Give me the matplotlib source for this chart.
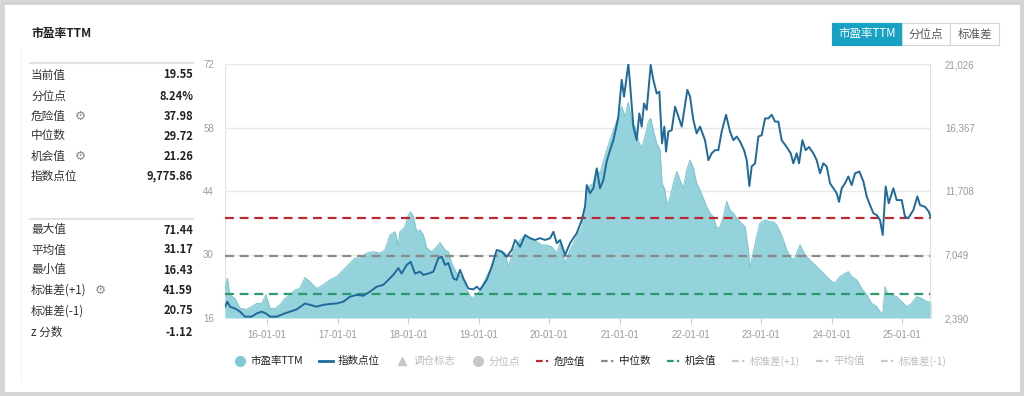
import matplotlib
matplotlib.use("Agg")
import matplotlib.pyplot as plt
from matplotlib.lines import Line2D
from matplotlib.patches import Rectangle
from matplotlib.ticker import FixedLocator, FuncFormatter

plt.rcParams['font.family'] = ['Noto Sans CJK SC', 'DejaVu Sans']

# ---------------- data ----------------
pe_t = [2015.405, 2015.438, 2015.475, 2015.546, 2015.617, 2015.711, 2015.782, 2015.853, 2015.924, 2015.986,
        2016.042, 2016.113, 2016.184, 2016.255, 2016.326, 2016.397, 2016.467, 2016.538, 2016.608, 2016.703,
        2016.797, 2016.892, 2016.986, 2017.081, 2017.175, 2017.246, 2017.317, 2017.411, 2017.505, 2017.6,
        2017.671, 2017.742, 2017.813, 2017.86, 2017.884, 2017.955, 2018.002, 2018.035, 2018.073, 2018.12,
        2018.167, 2018.215, 2018.262, 2018.333, 2018.404, 2018.451, 2018.522, 2018.569, 2018.616, 2018.687,
        2018.758, 2018.829, 2018.9, 2018.971, 2019.018, 2019.089, 2019.16, 2019.231, 2019.301, 2019.372,
        2019.419, 2019.49, 2019.561, 2019.632, 2019.726, 2019.821, 2019.891, 2019.962, 2020.033, 2020.104,
        2020.151, 2020.222, 2020.293, 2020.387, 2020.458, 2020.505, 2020.552, 2020.623, 2020.67,
        2020.717, 2020.811, 2020.906, 2020.977, 2021.024, 2021.071, 2021.118, 2021.166, 2021.213, 2021.26,
        2021.307, 2021.354, 2021.402, 2021.435, 2021.472, 2021.52, 2021.567, 2021.595, 2021.638, 2021.661,
        2021.708, 2021.756, 2021.803, 2021.85, 2021.897, 2021.945, 2021.992, 2022.039, 2022.086, 2022.133,
        2022.18, 2022.228, 2022.275, 2022.322, 2022.369, 2022.417, 2022.464, 2022.511, 2022.558, 2022.606,
        2022.653, 2022.7, 2022.771, 2022.818, 2022.842, 2022.879, 2022.936, 2022.983, 2023.054, 2023.125,
        2023.172, 2023.219, 2023.266, 2023.314, 2023.361, 2023.408, 2023.455, 2023.503, 2023.55, 2023.597,
        2023.644, 2023.715, 2023.786, 2023.857, 2023.928, 2023.998, 2024.045, 2024.116, 2024.187, 2024.234,
        2024.282, 2024.352, 2024.423, 2024.494, 2024.565, 2024.636, 2024.683, 2024.721, 2024.754, 2024.787,
        2024.848, 2024.919, 2024.99, 2025.061, 2025.131, 2025.202, 2025.273, 2025.344, 2025.405]
pe_v = [22.2, 24.75, 21.1, 20.3, 18.13, 17.9, 18.5, 19.2, 19.2, 21.1,
        18.1, 18.1, 18.9, 20.3, 21.1, 22.2, 22.5, 24.9, 24.0, 22.5,
        23.3, 24.4, 25.1, 26.6, 28.1, 29.2, 29.2, 30.3, 30.6, 30.3,
        31.0, 34.3, 35.0, 32.1, 35.0, 36.1, 38.7, 39.4, 38.3, 35.0,
        35.4, 34.3, 31.4, 30.6, 31.7, 32.6, 31.0, 30.6, 28.1, 25.8,
        25.1, 22.2, 20.3, 21.1, 22.2, 24.4, 26.6, 29.5, 31.0, 30.3,
        27.3, 31.0, 32.8, 33.9, 33.6, 32.8, 32.1, 32.1, 31.7, 30.3,
        32.5, 28.1, 31.0, 33.9, 36.1, 40.5, 44.9, 45.7, 48.6,
        47.9, 53.0, 57.4, 60.4, 62.6, 60.4, 63.5, 59.3, 58.2, 55.0,
        53.5, 56.0, 59.3, 60.0, 57.4, 54.5, 53.0, 45.7, 44.2, 40.9,
        42.4, 45.7, 48.3, 46.4, 44.6, 48.6, 50.8, 49.0, 45.7, 44.2,
        42.4, 40.5, 39.1, 38.3, 35.8, 36.1, 38.3, 41.7, 39.8, 39.1,
        38.0, 37.2, 36.1, 31.0, 27.0, 29.9, 33.9, 36.9, 37.6, 37.2,
        37.2, 36.5, 35.0, 33.2, 31.0, 29.5, 28.8, 30.3, 32.1, 30.6,
        29.5, 28.4, 27.3, 26.2, 25.1, 24.0, 23.7, 25.1, 25.8, 26.2,
        25.1, 24.4, 22.5, 21.1, 19.2, 18.5, 17.4, 16.7, 22.9, 21.4,
        21.1, 20.7, 19.6, 18.5, 19.2, 20.7, 20.3, 19.6, 19.55]

idx_t = [2015.405, 2015.438, 2015.475, 2015.546, 2015.617, 2015.688, 2015.782, 2015.853, 2015.924, 2015.986,
         2016.042, 2016.137, 2016.231, 2016.326, 2016.42, 2016.538, 2016.608, 2016.703, 2016.797, 2016.892,
         2016.986, 2017.081, 2017.175, 2017.27, 2017.364, 2017.458, 2017.553, 2017.647, 2017.718, 2017.789,
         2017.86, 2017.907, 2017.978, 2018.035, 2018.096, 2018.167, 2018.215, 2018.285, 2018.356, 2018.427,
         2018.474, 2018.522, 2018.569, 2018.64, 2018.687, 2018.734, 2018.782, 2018.852, 2018.923, 2018.971,
         2019.018, 2019.112, 2019.183, 2019.254, 2019.325, 2019.396, 2019.467, 2019.514, 2019.585, 2019.655,
         2019.726, 2019.797, 2019.868, 2019.939, 2020.01, 2020.057, 2020.104, 2020.151, 2020.222, 2020.293,
         2020.387, 2020.458, 2020.505, 2020.529, 2020.576, 2020.623, 2020.67,
         2020.717, 2020.764, 2020.811, 2020.859, 2020.906, 2020.953, 2020.977, 2021.024, 2021.057, 2021.118,
         2021.142, 2021.189, 2021.236, 2021.274, 2021.307, 2021.34, 2021.378, 2021.435, 2021.472, 2021.52,
         2021.557, 2021.595, 2021.628, 2021.652, 2021.685, 2021.732, 2021.78, 2021.827, 2021.874, 2021.921,
         2021.954, 2021.992, 2022.039, 2022.086, 2022.133, 2022.204, 2022.252, 2022.299, 2022.346, 2022.393,
         2022.44, 2022.502, 2022.558, 2022.606, 2022.653, 2022.7, 2022.757, 2022.795, 2022.832, 2022.865,
         2022.913, 2022.96, 2023.007, 2023.054, 2023.101, 2023.149, 2023.196, 2023.243, 2023.29, 2023.361,
         2023.418, 2023.455, 2023.503, 2023.536, 2023.583, 2023.63, 2023.677, 2023.739, 2023.786, 2023.833,
         2023.88, 2023.928, 2023.975, 2024.022, 2024.069, 2024.102, 2024.14, 2024.187, 2024.234, 2024.282,
         2024.329, 2024.39, 2024.447, 2024.494, 2024.541, 2024.589, 2024.636, 2024.683, 2024.721, 2024.763,
         2024.806, 2024.872, 2024.919, 2024.99, 2025.037, 2025.084, 2025.155, 2025.212, 2025.249, 2025.32,
         2025.367, 2025.405]
idx_v = [3222, 3588, 3222, 3089, 2856, 2490, 2490, 2723, 2856, 2723,
         2490, 2490, 2690, 2856, 3022, 3455, 3355, 3222, 3355, 3422,
         3455, 3588, 3954, 4087, 4021, 4320, 4686, 4819, 5186, 5552,
         6051, 5651, 6284, 6517, 5651, 5785, 5552, 5651, 5785, 6783,
         6883, 6284, 6417, 5285, 5186, 5918, 5285, 4553, 4487, 4686,
         4453, 5186, 6151, 7382, 7249, 6883, 7382, 8114, 7615, 8480,
         8247, 8114, 8247, 8114, 8247, 8713, 7881, 8114, 7016, 7881,
         8613, 9578, 10577, 12141, 11542, 11908, 13372,
         11908, 12507, 13872, 14704, 15436, 16534, 17166, 19862, 18631, 21026,
         19596, 16434, 15436, 17399, 16434, 18131, 17666, 20960, 19862, 18864,
         18997, 15203, 16434, 14604, 16068, 16168, 17898, 17166, 16434, 18032,
         19130, 18631, 16900, 15935, 16434, 15436, 13971, 14471, 14704, 14704,
         16068, 17299, 16068, 15436, 15702, 15336, 14704, 13971, 12074, 13506,
         13738, 15702, 15802, 17033, 17033, 17299, 16800, 16800, 15436, 14937,
         14471, 13738, 14471, 13738, 15436, 14704, 14937, 14471, 13971, 13006,
         13738, 13506, 12274, 11908, 11542, 10910, 11908, 12274, 12773, 12141,
         13006, 13139, 12407, 11309, 10677, 10078, 9945, 9578, 8480, 12041,
         10810, 11908, 11043, 11043, 9811, 9712, 10311, 11309, 10677, 10544,
         10244, 9776]

danger_val = 37.98
median_val = 29.72
chance_val = 21.26

x_ticks = [2016, 2017, 2018, 2019, 2020, 2021, 2022, 2023, 2024, 2025]
x_labels = ["16-01-01", "17-01-01", "18-01-01", "19-01-01", "20-01-01",
            "21-01-01", "22-01-01", "23-01-01", "24-01-01", "25-01-01"]
left_ticks = [16, 30, 44, 58, 72]
right_ticks = [2390, 7049, 11708, 16367, 21026]

stats1 = [("当前值", "19.55", False), ("分位点", "8.24%", False), ("危险值", "37.98", True),
          ("中位数", "29.72", False), ("机会值", "21.26", True), ("指数点位", "9,775.86", False)]
stats2 = [("最大值", "71.44", False), ("平均值", "31.17", False), ("最小值", "16.43", False),
          ("标准差(+1)", "41.59", True), ("标准差(-1)", "20.75", False), ("z 分数", "-1.12", False)]

# ---------------- figure ----------------
W, H = 1024, 396
fig = plt.figure(figsize=(W / 100, H / 100), dpi=100)
fig.patch.set_facecolor('white')

def fx(px):
    return px / W

def fy(py):
    return 1 - py / H

# outer frame
fig.patches.append(Rectangle((0.002, 0.004), 0.996, 0.992, transform=fig.transFigure,
                             fill=False, edgecolor='#d4d4d4', linewidth=3.5))

ax = fig.add_axes([fx(225), fy(318), fx(931) - fx(225), fy(64) - fy(318)])
ax2 = ax.twinx()

AREA = '#95d3dc'
LINE = '#1f6a9b'

ax.fill_between(pe_t, pe_v, 16, color=AREA, linewidth=0, zorder=2)
ax.plot(pe_t, pe_v, color='#80c7d2', linewidth=0.8, zorder=3)

ax.axhline(danger_val, color='#c0262d', linewidth=1.6, dashes=(4, 2.6), zorder=4)
ax.axhline(median_val, color='#8a8a8a', linewidth=1.6, dashes=(4, 2.6), zorder=4)
ax.axhline(chance_val, color='#2a9a6c', linewidth=1.6, dashes=(4, 2.6), zorder=4)

ax2.plot(idx_t, idx_v, color=LINE, linewidth=1.4, zorder=5)

ax.set_xlim(2015.405, 2025.405)
ax.set_ylim(16, 72)
ax2.set_ylim(2390, 21026)

ax.yaxis.set_major_locator(FixedLocator(left_ticks))
ax2.yaxis.set_major_locator(FixedLocator(right_ticks))
ax2.yaxis.set_major_formatter(FuncFormatter(lambda v, p: f"{int(round(v)):,}"))
ax.set_xticks(x_ticks)
ax.set_xticklabels(x_labels)

for a in (ax, ax2):
    for s in a.spines.values():
        s.set_visible(False)
ax.grid(axis='y', color='#e8e8e8', linewidth=1, zorder=0)
ax.set_axisbelow(True)
ax.axvline(2015.405, color='#e3e3e3', linewidth=1, zorder=1)
ax.axvline(2025.405, color='#d9d9d9', linewidth=1.2, zorder=6)
ax.axhline(16, color='#e3e3e3', linewidth=1, zorder=1)

ax.tick_params(axis='y', length=0, pad=8, labelsize=7, labelcolor='#9a9a9a')
ax2.tick_params(axis='y', length=0, pad=10, labelsize=7, labelcolor='#9a9a9a')
ax.tick_params(axis='x', length=4, width=0.8, color='#cccccc', pad=5, labelsize=7, labelcolor='#9a9a9a')
for lab in ax.get_xticklabels() + ax.get_yticklabels() + ax2.get_yticklabels():
    lab.set_fontfamily(['Liberation Sans', 'DejaVu Sans'])

# ---------------- left panel ----------------
fig.text(fx(31), fy(33), "市盈率TTM", fontsize=8.5, fontweight='bold', color='#222', va='center', ha='left')
fig.add_artist(Line2D([fx(30), fx(193)], [fy(63), fy(63)], color='#e2e2e2', linewidth=1.5))
fig.add_artist(Line2D([fx(30), fx(193)], [fy(219), fy(219)], color='#e2e2e2', linewidth=1.5))
fig.add_artist(Line2D([fx(21), fx(21)], [fy(50), fy(380)], color='#f5f5f5', linewidth=1))

rows1_y = [75, 96, 116, 136, 156, 176]
rows2_y = [230, 250, 270, 290, 311, 332]
for (lab, val, gear), yy in list(zip(stats1, rows1_y)) + list(zip(stats2, rows2_y)):
    fig.text(fx(31), fy(yy), lab, fontsize=8.4, color='#333', va='center', ha='left')
    fig.text(fx(193), fy(yy), val, fontsize=8.0, fontweight='bold', color='#222', va='center', ha='right')
    if gear:
        gx = 75 if len(lab) == 3 else 95
        fig.text(fx(gx), fy(yy), "⚙", fontsize=9, color='#8a8a8a', va='center', ha='left',
                 family=['DejaVu Sans'])

# ---------------- top right buttons ----------------
btns = [("市盈率TTM", 832, 902, True), ("分位点", 902, 950, False), ("标准差", 950, 999, False)]
for lab, x0, x1, active in btns:
    fig.patches.append(Rectangle((fx(x0), fy(45)), fx(x1) - fx(x0), fy(23) - fy(45),
                                 transform=fig.transFigure,
                                 facecolor='#17a1c2' if active else 'white',
                                 edgecolor='#17a1c2' if active else '#d6d6d6', linewidth=0.8))
    fig.text(fx((x0 + x1) / 2), fy(34), lab, fontsize=8.3, color='white' if active else '#555',
             ha='center', va='center')

# ---------------- legend ----------------
grey = '#c8c8c8'
dashdot = (0, (3, 1.5, 1, 1.5))
handles = [
    Line2D([], [], linestyle='none', marker='o', markersize=7, color='#7fcad5'),
    Line2D([], [], color=LINE, linewidth=2),
    Line2D([], [], linestyle='none', marker='^', markersize=6, color=grey),
    Line2D([], [], linestyle='none', marker='o', markersize=7, color=grey),
    Line2D([], [], color='#c0262d', linewidth=1.6, linestyle=dashdot),
    Line2D([], [], color='#8a8a8a', linewidth=1.6, linestyle=dashdot),
    Line2D([], [], color='#2a9a6c', linewidth=1.6, linestyle=dashdot),
    Line2D([], [], color=grey, linewidth=1.6, linestyle=dashdot),
    Line2D([], [], color=grey, linewidth=1.6, linestyle=dashdot),
    Line2D([], [], color=grey, linewidth=1.6, linestyle=dashdot),
]
labels = ["市盈率TTM", "指数点位", "调仓标志", "分位点", "危险值", "中位数", "机会值",
          "标准差(+1)", "平均值", "标准差(-1)"]
lcolors = ['#222', '#222', '#bdbdbd', '#bdbdbd', '#222', '#222', '#222', '#bdbdbd', '#bdbdbd', '#bdbdbd']
fig.legend(handles, labels, ncol=10, loc='center', bbox_to_anchor=(fx(590), fy(361)),
           frameon=False, fontsize=7.6, handlelength=1.3, handletextpad=0.4,
           columnspacing=1.5, labelcolor=lcolors)

fig.savefig("out.png", dpi=100, facecolor='white')
